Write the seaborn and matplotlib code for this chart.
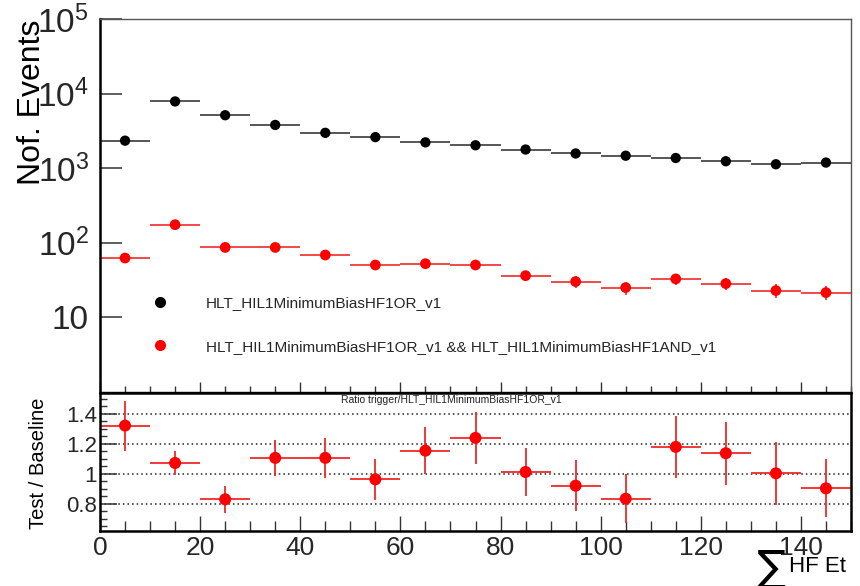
import numpy as np
import pandas as pd
import matplotlib
matplotlib.use("Agg")
import matplotlib.pyplot as plt
import seaborn as sns
from matplotlib.lines import Line2D
from matplotlib.ticker import FixedLocator, MultipleLocator, NullFormatter

# ---------------- data ----------------
bin_centers = [5, 15, 25, 35, 45, 55, 65, 75, 85, 95, 105, 115, 125, 135, 145]
bin_half_width = 5

baseline_counts = [2340, 7850, 5130, 3800, 2980, 2610, 2220, 2030, 1780, 1575, 1470, 1370, 1240, 1130, 1190]
baseline_err = [48, 89, 72, 62, 55, 51, 47, 45, 42, 40, 38, 37, 35, 34, 34]

test_counts = [62.5, 175, 86.7, 86.7, 68.6, 50.4, 52.5, 50.4, 36.3, 30.2, 25.1, 32.8, 28.4, 22.9, 21.5]
test_err = [7.9, 13.2, 9.3, 9.3, 8.3, 7.1, 7.2, 7.1, 6.0, 5.5, 5.0, 5.7, 5.3, 4.8, 4.6]

ratio_vals = [1.32, 1.071, 0.829, 1.105, 1.105, 0.962, 1.153, 1.238, 1.011, 0.92, 0.833, 1.178, 1.136, 1.002, 0.902]
ratio_err = [0.167, 0.08, 0.09, 0.118, 0.133, 0.135, 0.157, 0.171, 0.163, 0.169, 0.163, 0.205, 0.21, 0.211, 0.193]

label_base = "HLT_HIL1MinimumBiasHF1OR_v1"
label_test = "HLT_HIL1MinimumBiasHF1OR_v1 && HLT_HIL1MinimumBiasHF1AND_v1"
ratio_title = "Ratio trigger/HLT_HIL1MinimumBiasHF1OR_v1"

top_yticks = [10, 100, 1000, 10000, 100000]
top_yticklabels = ["10", r"$\mathregular{10^{2}}$", r"$\mathregular{10^{3}}$",
                   r"$\mathregular{10^{4}}$", r"$\mathregular{10^{5}}$"]
ratio_yticks = [0.8, 1.0, 1.2, 1.4]
ratio_yticklabels = ["0.8", "1", "1.2", "1.4"]
xticks = [0, 20, 40, 60, 80, 100, 120, 140]

df = pd.DataFrame({"x": bin_centers, "base": baseline_counts, "test": test_counts,
                   "ratio": ratio_vals})

# ---------------- style ----------------
sns.set_theme(style="white")
plt.rcParams["font.family"] = ["Liberation Sans", "DejaVu Sans"]
plt.rcParams["mathtext.fontset"] = "custom"
plt.rcParams["mathtext.rm"] = "Liberation Sans"
plt.rcParams["mathtext.it"] = "Liberation Sans:italic"
plt.rcParams["mathtext.bf"] = "Liberation Sans:bold"

W, H = 860, 586
fig = plt.figure(figsize=(W / 100, H / 100), dpi=100)
fig.patch.set_facecolor("white")

def fx(px):
    return px / W

def fy(py):
    return 1 - py / H

left, right = 100, 851
ax1 = fig.add_axes([fx(left), fy(392), fx(right - left), (392 - 19) / H])
ax2 = fig.add_axes([fx(left), fy(530.7), fx(right - left), (530.7 - 393.3) / H])

red = "#ff0000"
red_line = "#ee2a2a"

# ---------------- top panel ----------------
ax1.errorbar(df["x"], df["base"], xerr=bin_half_width, yerr=baseline_err, fmt="none",
             ecolor="#3a3a3a", elinewidth=1.2, capsize=0, zorder=2)
ax1.errorbar(df["x"], df["test"], xerr=bin_half_width, yerr=test_err, fmt="none",
             ecolor=red_line, elinewidth=1.2, capsize=0, zorder=2)
sns.scatterplot(data=df, x="x", y="base", ax=ax1, color="black", s=55,
                edgecolor="none", zorder=3, legend=False)
sns.scatterplot(data=df, x="x", y="test", ax=ax1, color=red, s=60,
                edgecolor="none", zorder=3, legend=False)

ax1.set_yscale("log")
ax1.set_xlim(0, 150)
ax1.set_ylim(1, 1e5)
ax1.set_xlabel("")
ax1.set_ylabel("")
ax1.yaxis.set_major_locator(FixedLocator(top_yticks))
ax1.set_yticklabels(top_yticklabels)
ax1.yaxis.set_minor_locator(matplotlib.ticker.LogLocator(base=10, subs=np.arange(2, 10)))
ax1.yaxis.set_minor_formatter(NullFormatter())
ax1.xaxis.set_major_locator(FixedLocator(xticks))
ax1.xaxis.set_minor_locator(MultipleLocator(5))
ax1.tick_params(axis="x", which="both", labelbottom=False, direction="in", bottom=True, top=False)
ax1.tick_params(axis="x", which="major", length=7.5, width=1, color="#333333")
ax1.tick_params(axis="x", which="minor", length=4, width=1, color="#333333")
ax1.tick_params(axis="y", which="both", direction="in", left=True, right=False)
ax1.tick_params(axis="y", which="major", length=16, width=1.1, color="#333333",
                labelsize=24, pad=8)
ax1.tick_params(axis="y", which="minor", length=7, width=1, color="#333333")

for side in ["top", "right"]:
    ax1.spines[side].set_color("#555555")
    ax1.spines[side].set_linewidth(1.0)
ax1.spines["left"].set_color("black")
ax1.spines["left"].set_linewidth(1.8)
ax1.spines["bottom"].set_color("black")
ax1.spines["bottom"].set_linewidth(1.0)

handles = [Line2D([0], [0], marker="o", color="none", markerfacecolor="black",
                  markeredgecolor="none", markersize=8),
           Line2D([0], [0], marker="o", color="none", markerfacecolor=red,
                  markeredgecolor="none", markersize=8)]
fig.legend(handles, [label_base, label_test], loc="upper left",
           bbox_to_anchor=(fx(145), fy(296)), frameon=False, fontsize=11,
           handlelength=2, handletextpad=2.0, labelspacing=1.95,
           borderpad=0, borderaxespad=0)

fig.text(fx(32), fy(20), "Nof. Events", rotation=90, ha="center", va="top",
         fontsize=23, color="black")

# ---------------- ratio panel ----------------
ax2.errorbar(df["x"], df["ratio"], xerr=bin_half_width, yerr=ratio_err, fmt="none",
             ecolor=red_line, elinewidth=1.3, capsize=0, zorder=2)
sns.scatterplot(data=df, x="x", y="ratio", ax=ax2, color=red, s=75,
                edgecolor="none", zorder=3, legend=False)
ax2.set_xlim(0, 150)
ax2.set_ylim(0.62, 1.535)
ax2.set_xlabel("")
ax2.set_ylabel("")
ax2.yaxis.set_major_locator(FixedLocator(ratio_yticks))
ax2.set_yticklabels(ratio_yticklabels)
ax2.yaxis.set_minor_locator(MultipleLocator(0.05))
ax2.xaxis.set_major_locator(FixedLocator(xticks))
ax2.set_xticklabels([str(v) for v in xticks])
ax2.xaxis.set_minor_locator(MultipleLocator(5))
ax2.tick_params(axis="x", which="both", direction="in", bottom=True, top=False)
ax2.tick_params(axis="x", which="major", length=11, width=1, color="#333333",
                labelsize=19, pad=4)
ax2.tick_params(axis="x", which="minor", length=7, width=1, color="#333333")
ax2.tick_params(axis="y", which="both", direction="in", left=True, right=False)
ax2.tick_params(axis="y", which="major", length=12, width=1.1, color="#333333",
                labelsize=16, pad=2)
ax2.tick_params(axis="y", which="minor", length=5, width=1, color="#333333")
ax2.yaxis.grid(True, which="major", linestyle=(0, (1, 2)), color="#222222", linewidth=1.1)
ax2.xaxis.grid(False)
ax2.set_axisbelow(True)
for side in ["top", "right", "bottom", "left"]:
    ax2.spines[side].set_color("black")
    ax2.spines[side].set_linewidth(1.8)

fig.text(fx(451), fy(400), ratio_title, ha="center", va="center", fontsize=7.5,
         color="#222222")
fig.text(fx(38), fy(463), "Test / Baseline", rotation=90, ha="center", va="center",
         fontsize=14.5, color="black")

# x axis title: sum HF Et
fig.text(fx(771), fy(569), "\u2211", ha="center", va="center", fontsize=31,
         family="DejaVu Sans", color="black")
fig.text(fx(789), fy(566), "HF Et", ha="left", va="center", fontsize=16, color="black")

fig.savefig("out.png", dpi=100, facecolor="white")
